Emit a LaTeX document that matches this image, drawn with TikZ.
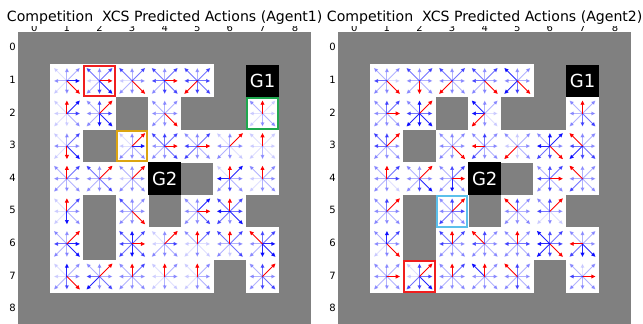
\documentclass[tikz,border=0pt]{standalone}
\usepackage{fontspec}
\setmainfont{DejaVu Sans}
\usetikzlibrary{arrows.meta}
\definecolor{cellgray}{HTML}{808080}
\definecolor{boxred}{HTML}{F01E1E}
\definecolor{boxgreen}{HTML}{1FA84F}
\definecolor{boxgold}{HTML}{DCA512}
\definecolor{boxcyan}{HTML}{5BC0EB}
\tikzset{
  arr/.style={line width=0.9pt,-{Triangle[length=4.2pt,width=3.8pt]}},
  goalcell/.style={fill=black,text=white,font=\fontsize{18}{20}\selectfont,minimum size=32.6pt,inner sep=0pt},
  hibox/.style={line width=2pt},
  ticklab/.style={font=\fontsize{10}{12}\selectfont,inner sep=0pt},
  titlelab/.style={font=\fontsize{14.1}{16}\selectfont,inner sep=0pt,anchor=base},
}
\newcommand\ArrLen{13}
\newcommand\DrawCell[4]{%
  \fill[white] (#1-16.55,#2-16.55) rectangle (#1+16.55,#2+16.55);
  \foreach \lv [count=\i] in #4 {%
    \ifnum\i=#3\relax\else
      \pgfmathsetmacro\op{{0,0.12,0.3,0.55,0.85}[\lv]}%
      \pgfmathsetmacro\ddx{{0,1,1,1,0,-1,-1,-1}[\i-1]}%
      \pgfmathsetmacro\ddy{{-1,-1,0,1,1,1,0,-1}[\i-1]}%
      \draw[arr,blue,opacity=\op] (#1,#2) -- ++(\ddx*\ArrLen,\ddy*\ArrLen);
    \fi
  }%
  \ifnum#3>0
    \pgfmathsetmacro\ddx{{0,1,1,1,0,-1,-1,-1}[#3-1]}%
    \pgfmathsetmacro\ddy{{-1,-1,0,1,1,1,0,-1}[#3-1]}%
    \draw[arr,red] (#1,#2) -- ++(\ddx*\ArrLen,\ddy*\ArrLen);
  \fi
}
\begin{document}
\begin{tikzpicture}[x=1pt,y=-1pt]
\useasboundingbox (0,0) rectangle (643,324);
\fill[white] (0,0) rectangle (643,324);
% ---------------- Panel 1 ----------------
\def\Xo{18}\def\Yo{32}\def\S{32.6}
\node[titlelab] (title1) at (\Xo+4.5*\S,21.7) {Competition\ \ XCS Predicted Actions (Agent1)};
\begin{scope}
\clip (\Xo-6,26) rectangle (\Xo+9*\S+6,32);
\foreach \k in {0,...,8} {
  \node[ticklab,anchor=base] (p1c\k) at (\Xo+\k*\S+0.5*\S,31) {\k};
}
\end{scope}
\foreach \k in {0,...,8} {
  \node[ticklab,anchor=east] (p1r\k) at (\Xo-2,\Yo+\k*\S+0.5*\S-1) {\k};
}
\fill[cellgray] (\Xo,\Yo) rectangle ++(9*\S,9*\S);
\foreach \c/\r/\rd/\lst in {
 1/1/4/{2,2,4,0,2,1,2,1}, 2/1/3/{2,3,0,4,3,2,1,3}, 3/1/4/{2,3,2,0,2,2,1,3},
 4/1/3/{2,3,0,3,3,2,3,3}, 5/1/6/{2,3,3,3,3,0,3,3},
 1/2/1/{0,4,3,2,1,1,1,1}, 2/2/2/{3,0,3,4,4,2,2,2}, 4/2/4/{2,2,2,0,2,2,2,2},
 7/2/1/{0,1,1,2,2,1,1,2},
 1/3/5/{2,3,2,4,0,1,2,1}, 3/3/2/{2,0,4,2,2,2,1,1}, 4/3/3/{3,3,0,3,2,2,2,3},
 5/3/3/{2,3,0,2,2,3,3,2}, 6/3/2/{2,0,2,1,2,2,2,1}, 7/3/1/{0,1,1,1,2,1,1,1},
 1/4/1/{0,3,2,2,2,2,2,2}, 2/4/2/{2,0,2,3,2,2,2,3}, 3/4/2/{2,0,2,2,2,2,1,2},
 6/4/1/{0,4,2,2,3,2,4,1}, 7/4/1/{0,2,2,2,2,1,1,2},
 1/5/1/{0,3,2,2,4,1,1,1}, 3/5/4/{2,2,2,0,2,2,2,3}, 5/5/3/{2,4,0,3,2,2,2,2},
 6/5/1/{0,3,3,4,2,3,4,3},
 1/6/2/{2,0,4,4,2,2,3,2}, 3/6/3/{4,3,0,3,4,3,3,3}, 4/6/2/{2,0,3,2,2,2,1,1},
 5/6/1/{0,3,1,1,2,1,1,2}, 6/6/1/{0,3,2,3,1,2,2,3}, 7/6/8/{3,3,4,4,4,2,2,0},
 1/7/4/{4,2,2,0,3,2,1,1}, 2/7/2/{2,0,2,3,2,4,3,2}, 3/7/1/{0,3,2,2,2,2,2,2},
 4/7/1/{0,2,2,1,2,1,1,1}, 5/7/1/{0,2,2,2,2,1,1,1}, 7/7/2/{3,0,2,3,3,2,2,2}} {
  \pgfmathsetmacro\cx{\Xo+(\c+0.5)*\S}
  \pgfmathsetmacro\cy{\Yo+(\r+0.5)*\S}
  \DrawCell{\cx}{\cy}{\rd}{\lst}
}
\node[goalcell] (p1g1) at (\Xo+7.5*\S,\Yo+1.5*\S) {G1};
\node[goalcell] (p1g2) at (\Xo+4.5*\S,\Yo+4.5*\S) {G2};
\draw[hibox,boxred] (\Xo+2*\S+1,\Yo+1*\S+1) rectangle ++(\S-2,\S-2);
\draw[hibox,boxgreen] (\Xo+7*\S+1,\Yo+2*\S+1) rectangle ++(\S-2,\S-2);
\draw[hibox,boxgold] (\Xo+3*\S+1,\Yo+3*\S+1) rectangle ++(\S-2,\S-2);
% ---------------- Panel 2 ----------------
\def\Xo{338}
\node[titlelab] (title2) at (\Xo+4.5*\S,21.7) {Competition\ \ XCS Predicted Actions (Agent2)};
\begin{scope}
\clip (\Xo-6,26) rectangle (\Xo+9*\S+6,32);
\foreach \k in {0,...,8} {
  \node[ticklab,anchor=base] (p2c\k) at (\Xo+\k*\S+0.5*\S,31) {\k};
}
\end{scope}
\foreach \k in {0,...,8} {
  \node[ticklab,anchor=east] (p2r\k) at (\Xo-2,\Yo+\k*\S+0.5*\S-1) {\k};
}
\fill[cellgray] (\Xo,\Yo) rectangle ++(9*\S,9*\S);
\foreach \c/\r/\rd/\lst in {
 1/1/4/{2,2,1,0,2,2,3,2}, 2/1/5/{2,3,2,2,0,2,2,3}, 3/1/6/{2,3,2,2,2,0,2,3},
 4/1/4/{2,3,2,0,2,2,3,3}, 5/1/4/{2,2,2,0,3,4,2,4},
 1/2/3/{3,3,0,2,2,2,2,2}, 2/2/2/{4,0,3,4,4,4,3,2}, 4/2/6/{2,2,1,1,2,0,4,4},
 7/2/1/{0,2,2,3,3,2,2,2},
 1/3/2/{3,0,2,2,2,2,3,3}, 3/3/4/{2,2,2,0,2,2,2,2}, 4/3/7/{3,2,2,2,2,3,0,2},
 5/3/6/{1,2,2,2,1,0,1,2}, 6/3/4/{4,4,2,0,3,3,4,2}, 7/3/8/{2,2,2,3,3,4,3,0},
 1/4/1/{0,3,3,1,2,2,2,2}, 2/4/2/{2,0,2,4,3,2,2,2}, 3/4/3/{3,3,0,2,4,2,2,2},
 6/4/3/{3,3,0,2,3,2,3,2}, 7/4/8/{2,2,2,2,2,3,2,0},
 1/5/2/{3,0,2,2,2,2,2,2}, 3/5/2/{3,0,3,2,2,3,2,2}, 5/5/8/{3,2,2,2,2,2,2,0},
 6/5/2/{3,0,2,1,2,1,3,2},
 1/6/4/{4,3,2,0,2,1,2,2}, 3/6/1/{0,3,2,2,2,2,3,3}, 4/6/8/{3,2,2,2,2,2,3,0},
 5/6/1/{0,2,3,2,2,2,3,2}, 6/6/4/{3,3,3,0,3,4,4,4}, 7/6/7/{2,2,2,4,4,3,0,2},
 1/7/3/{2,2,0,2,2,2,2,2}, 2/7/2/{3,0,3,4,3,3,1,1}, 3/7/1/{0,3,2,2,2,2,2,2},
 4/7/1/{0,2,2,2,2,2,2,4}, 5/7/8/{3,2,2,2,3,2,2,0}, 7/7/3/{1,2,0,2,2,2,3,2}} {
  \pgfmathsetmacro\cx{\Xo+(\c+0.5)*\S}
  \pgfmathsetmacro\cy{\Yo+(\r+0.5)*\S}
  \DrawCell{\cx}{\cy}{\rd}{\lst}
}
\node[goalcell] (p2g1) at (\Xo+7.5*\S,\Yo+1.5*\S) {G1};
\node[goalcell] (p2g2) at (\Xo+4.5*\S,\Yo+4.5*\S) {G2};
\draw[hibox,boxcyan] (\Xo+3*\S+1,\Yo+5*\S+1) rectangle ++(\S-2,\S-2);
\draw[hibox,boxred] (\Xo+2*\S+1,\Yo+7*\S+1) rectangle ++(\S-2,\S-2);
\end{tikzpicture}
\end{document}
